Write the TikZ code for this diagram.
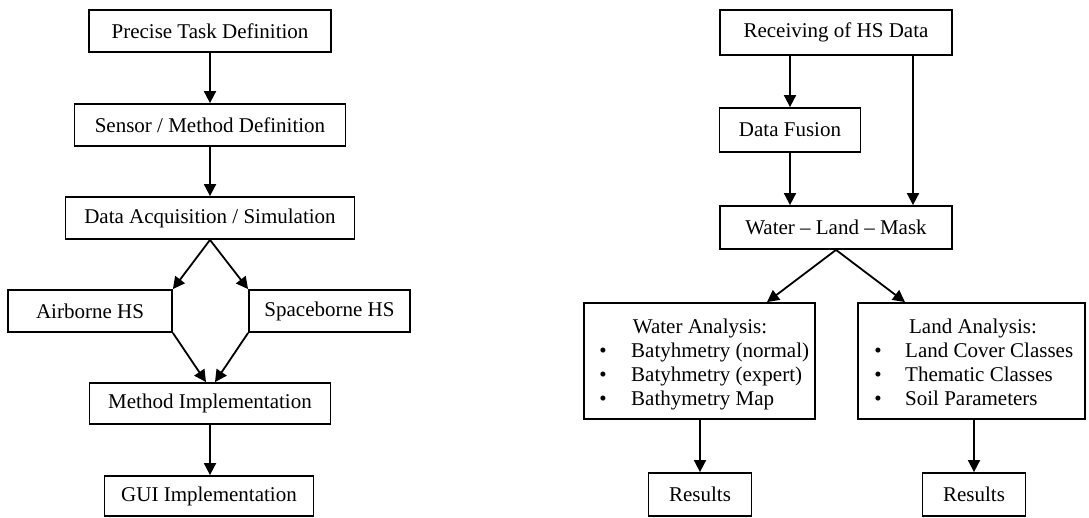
\documentclass[tikz,border=0pt]{standalone}
\usepackage{fontspec}
\setmainfont{Liberation Serif}
\usetikzlibrary{arrows.meta,calc}
\tikzset{
  box/.style={draw, line width=1.8pt, inner sep=0pt, align=center, font=\fontsize{21}{24.3}\selectfont},
  arr/.style={line width=1.8pt, -{Triangle[length=12pt,width=12pt]}},
  txt/.style={inner sep=0pt, font=\fontsize{21}{24.3}\selectfont},
}
\begin{document}
\begin{tikzpicture}[x=1pt,y=-1pt]
\useasboundingbox (0,0) rectangle (1089,517);
% left flow
\node[box, minimum width=242pt, minimum height=42pt] (ptd) at (210,31) {Precise Task Definition};
\node[box, minimum width=271pt, minimum height=42pt] (smd) at (210,125) {Sensor / Method Definition};
\node[box, minimum width=289pt, minimum height=42pt] (das) at (210,218) {Data Acquisition / Simulation};
\node[box, minimum width=164pt, minimum height=42pt] (air) at (90,311) {Airborne HS};
\node[box, minimum width=161pt, minimum height=42pt] (spc) at (329.5,311) {Spaceborne HS};
\node[box, minimum width=241pt, minimum height=41pt] (mi) at (210,403.5) {Method Implementation};
\node[box, minimum width=209pt, minimum height=40pt] (gui) at (209,496) {GUI Implementation};

\draw[arr] (ptd.south) -- (ptd.south |- smd.north);
\draw[arr] (smd.south) -- (smd.south |- das.north);
\draw[arr] (das.south) -- (air.north east);
\draw[arr] (das.south) -- (spc.north west);
\draw[arr] (air.south east) -- ($(mi.north)+(-4,0)$);
\draw[arr] (spc.south west) -- ($(mi.north)+(5,0)$);
\draw[arr] (mi.south) -- (mi.south |- gui.north);

% right flow
\node[box, minimum width=232pt, minimum height=45pt] (rec) at (836,32.5) {Receiving of HS Data};
\node[box, minimum width=141pt, minimum height=44pt] (df) at (790,130) {Data Fusion};
\node[box, minimum width=232pt, minimum height=43pt] (wlm) at (836,227.5) {Water -- Land -- Mask};
\node[box, minimum width=231pt, minimum height=116pt] (wa) at (699.5,361) {};
\node[box, minimum width=227pt, minimum height=116pt] (la) at (971.5,361) {};
\node[box, minimum width=103pt, minimum height=43pt] (r1) at (700,494.5) {Results};
\node[box, minimum width=103pt, minimum height=43pt] (r2) at (974,494.5) {Results};

% water analysis content
\node[txt, anchor=base] (wat) at (700,333) {Water Analysis:};
\node[txt, anchor=base] (wb1) at (603,357) {\textbullet};
\node[txt, anchor=base west] (wi1) at (631,357) {Batyhmetry (normal)};
\node[txt, anchor=base] (wb2) at (603,381.3) {\textbullet};
\node[txt, anchor=base west] (wi2) at (631,381.3) {Batyhmetry (expert)};
\node[txt, anchor=base] (wb3) at (603,405.6) {\textbullet};
\node[txt, anchor=base west] (wi3) at (631,405.6) {Bathymetry Map};
% land analysis content
\node[txt, anchor=base] (lat) at (973,333) {Land Analysis:};
\node[txt, anchor=base] (lb1) at (878,357) {\textbullet};
\node[txt, anchor=base west] (li1) at (905,357) {Land Cover Classes};
\node[txt, anchor=base] (lb2) at (878,381.3) {\textbullet};
\node[txt, anchor=base west] (li2) at (905,381.3) {Thematic Classes};
\node[txt, anchor=base] (lb3) at (878,405.6) {\textbullet};
\node[txt, anchor=base west] (li3) at (905,405.6) {Soil Parameters};

\draw[arr] (df.north |- rec.south) -- (df.north);
\draw[arr] ($(rec.south)+(77,0)$) -- ($(wlm.north)+(77,0)$);
\draw[arr] (df.south) -- (df.south |- wlm.north);
\draw[arr] (wlm.south) -- ($(wa.north)+(67.5,0)$);
\draw[arr] (wlm.south) -- ($(la.north)+(-66.5,0)$);
\draw[arr] (wa.south -| r1.north) -- (r1.north);
\draw[arr] (la.south -| r2.north) -- (r2.north);
\end{tikzpicture}
\end{document}
